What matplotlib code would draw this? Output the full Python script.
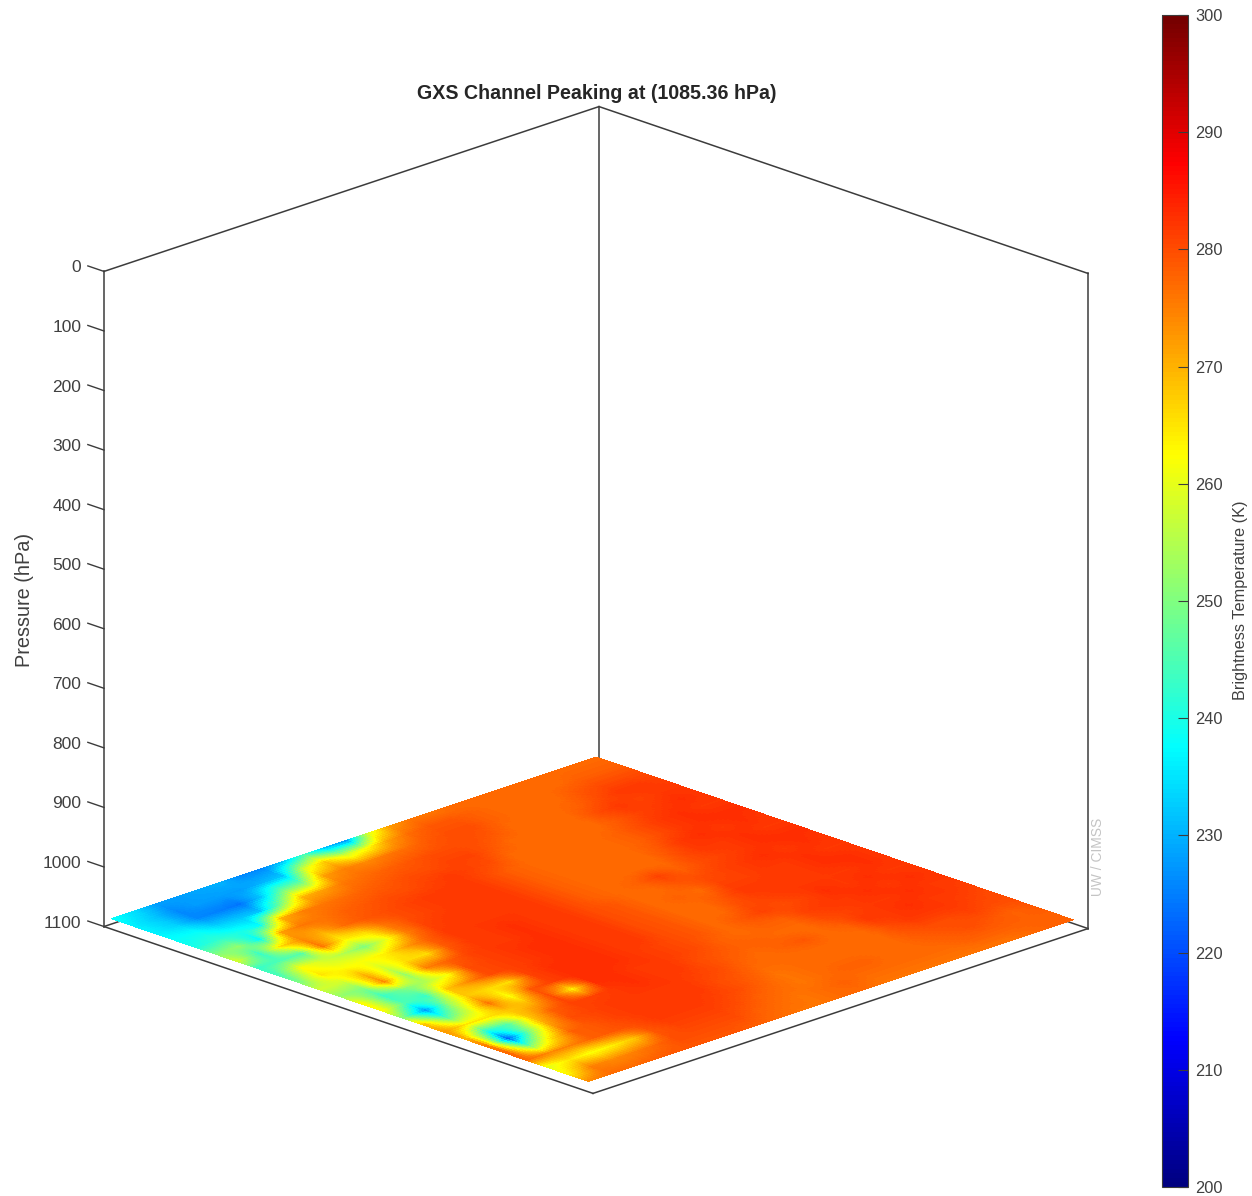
import numpy as np
import matplotlib
matplotlib.use("Agg")
import matplotlib.pyplot as plt
from matplotlib.cm import ScalarMappable
from matplotlib.colors import LinearSegmentedColormap, Normalize
from mpl_toolkits.mplot3d import proj3d

plt.rcParams['font.family'] = ['Liberation Sans', 'DejaVu Sans']

# brightness temperature, rows run from the front-left
# edge to the back-right edge, columns from the back-left edge to the front-right
bt_rows = [
    [238,236,236,238,240,250,258,243,245,250,258,252,262,262,250,268,272,270,275,277,277,260,264,275],
    [234,232,233,238,242,252,243,245,262,265,258,250,243,245,228,245,265,240,222,248,274,265,275,277],
    [228,226,226,233,240,238,266,246,258,262,270,274,250,243,252,258,265,246,250,265,275,262,274,277],
    [228,228,225,232,238,272,274,276,255,262,258,252,255,268,268,276,268,268,272,278,278,264,275,278],
    [229,228,224,232,270,276,270,264,250,264,266,275,262,274,266,262,270,278,280,279,279,268,277,279],
    [230,228,232,250,275,276,277,266,260,272,266,278,280,280,266,279,280,281,281,281,280,279,280,279],
    [226,230,248,270,276,278,279,276,275,278,279,281,281,281,281,281,264,281,282,282,282,281,280,279],
    [226,232,250,272,277,279,280,280,281,282,282,282,282,282,283,283,283,282,282,282,282,281,280,279],
    [232,258,272,276,278,280,281,281,282,282,282,282,283,283,283,283,283,283,282,282,282,281,280,278],
    [245,268,275,277,279,280,282,282,282,282,283,283,283,283,283,283,282,282,282,282,281,280,278,277],
    [232,258,274,278,280,281,282,282,282,282,282,282,282,282,282,282,282,282,281,280,280,278,277,276],
    [228,262,276,279,280,282,282,282,282,282,282,282,282,282,282,281,281,280,280,279,278,277,276,276],
    [258,272,277,280,281,281,280,280,280,280,280,280,280,280,280,280,280,279,278,277,276,276,277,277],
    [272,277,279,280,281,280,278,278,278,278,278,279,279,279,279,279,278,278,277,277,277,277,278,277],
    [276,279,280,280,279,277,277,277,277,277,277,277,277,277,277,277,277,278,278,277,277,278,277,276],
    [276,279,280,279,277,277,277,277,277,277,278,277,278,277,277,279,278,277,279,277,277,278,277,276],
    [277,278,278,277,277,277,277,277,277,277,281,279,277,279,280,281,278,277,277,277,277,277,277,276],
    [277,277,277,277,277,277,277,277,277,277,278,280,281,282,281,280,281,280,278,277,277,277,277,276],
    [277,277,277,277,277,277,278,278,279,280,280,281,281,282,282,281,282,281,282,280,279,278,277,276],
    [277,277,277,278,280,279,280,280,282,282,281,282,282,282,282,283,282,282,282,282,280,279,278,276],
    [277,277,279,280,282,281,282,282,283,282,282,283,282,282,282,282,283,282,283,282,280,280,278,276],
    [277,278,280,282,281,282,283,283,282,283,283,282,283,283,282,283,282,283,282,282,281,279,278,277],
    [277,278,280,282,282,283,282,283,283,282,283,283,282,283,283,282,283,282,282,281,280,278,278,278],
    [277,278,280,281,282,282,282,283,282,282,283,282,282,282,282,282,282,282,281,280,280,279,278,278],
]
pressure_ticks = [0, 100, 200, 300, 400, 500, 600, 700, 800, 900, 1000, 1100]
colorbar_ticks = [200, 210, 220, 230, 240, 250, 260, 270, 280, 290, 300]
channel_peak = 1085.36

W, H = 1252, 1196
LINE = '#3c3c3c'
TEXT = '#404040'


def shade_interp(values, factor):
    # same idea as matlab "shading interp": colours are blended between the values
    n_y, n_x = values.shape
    xi = np.linspace(0, n_x - 1, (n_x - 1) * factor + 1)
    yi = np.linspace(0, n_y - 1, (n_y - 1) * factor + 1)
    rows = np.array([np.interp(xi, np.arange(n_x), r) for r in values])
    return np.array([np.interp(yi, np.arange(n_y), c) for c in rows.T]).T


fig = plt.figure(figsize=(W / 100, H / 100), dpi=100)
S = 1170
ax = fig.add_axes([-4.8 / W, -4.8 / H, S / W, S / H], projection='3d', proj_type='ortho')
ax.view_init(elev=19.7, azim=-44.65)
ax.set_box_aspect((1, 1, 1))
ax.set_xlim(0, 1, view_margin=0)
ax.set_ylim(0, 1, view_margin=0)
ax.set_zlim(1100, 0, view_margin=0)
ax.set_axis_off()
ax.computed_zorder = False

bt = np.array(bt_rows, dtype=float)
norm = Normalize(200, 300)
# matlab's jet, the one matplotlib ships is a little different
cmap = LinearSegmentedColormap.from_list('matlab_jet', [
    (0.0, (0, 0, 0.5)), (0.125, (0, 0, 1)), (0.375, (0, 1, 1)),
    (0.625, (1, 1, 0)), (0.875, (1, 0, 0)), (1.0, (0.45, 0, 0))])

# floor and walls
for xs, ys in [((0, 1), (0, 0)), ((1, 1), (0, 1)), ((0, 1), (1, 1)), ((0, 0), (0, 1))]:
    ax.plot(xs, ys, [1100, 1100], color=LINE, lw=1.1, zorder=1)
for xs, ys in [((0, 0), (0, 1)), ((0, 1), (1, 1))]:
    ax.plot(xs, ys, [0, 0], color=LINE, lw=1.1, zorder=1)
for px, py in [(0, 0), (0, 1), (1, 1)]:
    ax.plot([px, px], [py, py], [0, 1100], color=LINE, lw=1.1, zorder=1)

# pressure ticks on the left corner
M = ax.get_proj()
for p in pressure_ticks:
    ax.plot([-0.033, 0], [0, 0], [p, p], color=LINE, lw=1.0, zorder=1)
    lx, ly, _ = proj3d.proj_transform(-0.046, 0, p + 7, M)
    ax.annotate(str(p), xy=(lx, ly), ha='right', va='center', fontsize=12.5, color=TEXT,
                annotation_clip=False)

# channel image, sitting just above the floor
fine = shade_interp(bt, 8)
xx, yy = np.meshgrid(np.linspace(0.01, 0.985, fine.shape[1]),
                     np.linspace(0.005, 0.985, fine.shape[0]))
ax.plot_surface(xx, yy, np.full_like(fine, channel_peak), rstride=1, cstride=1,
                facecolors=cmap(norm(fine)), shade=False, linewidth=0,
                antialiased=False, zorder=2)

fig.text(597 / W, 1 - 93.5 / H, 'GXS Channel Peaking at (%.2f hPa)' % channel_peak,
         ha='center', va='center', fontsize=14.1, fontweight='bold', color='#262626')
fig.text(25 / W, 1 - 600 / H, 'Pressure (hPa)', rotation=90, ha='center', va='center',
         fontsize=14.3, color=TEXT)
fig.text(1098 / W, 1 - 857 / H, 'UW / CIMSS', rotation=90, ha='center', va='center',
         fontsize=9.9, color='#c4c4c4')

# colorbar
cax = fig.add_axes([1162 / W, 1 - 1187 / H, 26 / W, 1172 / H])
cb = fig.colorbar(ScalarMappable(norm=norm, cmap=cmap), cax=cax)
cb.set_ticks(colorbar_ticks)
cb.outline.set_edgecolor(LINE)
cb.outline.set_linewidth(0.8)
cax.tick_params(direction='in', length=7, width=0.8, color=LINE, labelsize=11.8,
                labelcolor=TEXT, pad=5)
fig.text(1241 / W, 1 - 600 / H, 'Brightness Temperature (K)', rotation=90, ha='center',
         va='center', fontsize=11.7, color=TEXT)

fig.savefig('out.png', dpi=100)
